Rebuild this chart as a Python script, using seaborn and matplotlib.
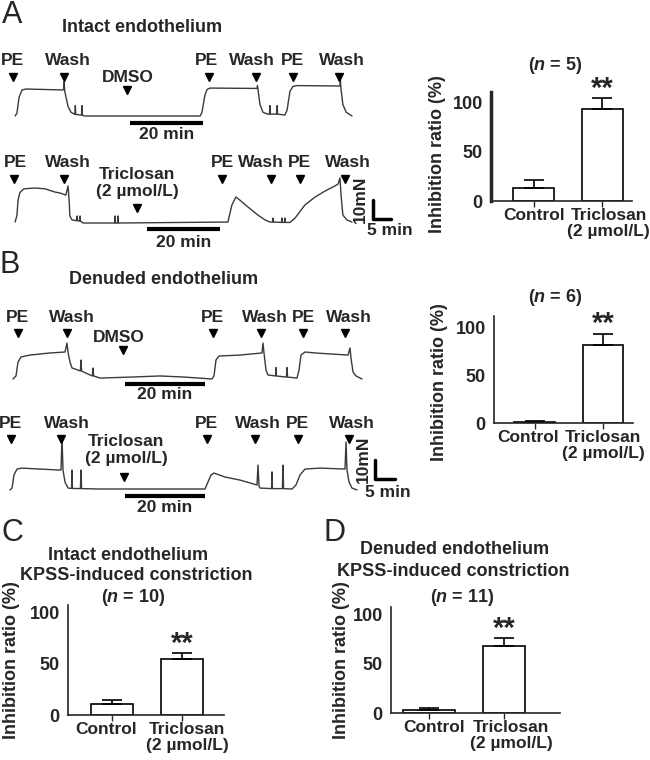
import matplotlib
matplotlib.use("Agg")
import matplotlib.pyplot as plt
import seaborn as sns

# tension recordings: time (min) and tension above baseline (mN)
a1_t = [1.4, 1.9, 2.5, 3.3, 4.4, 14.5, 14.7, 14.8, 15.0, 15.9, 16.7, 17.6, 17.8, 17.9, 18.0, 19.6,
        19.7, 19.8, 20.5, 52.1, 52.6, 53.4, 54.0, 54.8, 67.7, 67.8, 68.0, 68.5, 69.3, 70.5, 71.1,
        71.2, 71.3, 73.1, 73.2, 73.3, 75.3, 75.9, 76.7, 77.5, 78.5, 90.4, 90.5, 90.7, 91.2, 92.1, 93.7]
a1_f = [0, 1.5, 10, 13.7, 14.2, 13.7, 14, 18, 13, 5, 2, 1, 0.8, 5.5, 0.8, 0.5,
        5.5, 0.5, 0, 0, 2, 11, 14, 14.7, 14.5, 16, 13, 6, 2, 1, 1,
        5.5, 1, 1, 5.5, 1, 0.5, 3, 13, 15.5, 16, 15.8, 19, 14, 6, 2, 0]

a2_t = [1.4, 1.9, 2.2, 2.7, 3.8, 6.8, 9.6, 12.3, 13.7, 15.3, 15.9, 16.2, 16.4, 17.0, 18.3, 18.4,
        18.5, 19.1, 19.2, 19.3, 20.0, 28.7, 28.8, 28.9, 29.5, 29.6, 29.7, 59.7, 60.8, 61.9, 63.0,
        65.2, 67.9, 69.9, 71.2, 72.0, 72.1, 72.2, 74.4, 74.5, 74.6, 75.2, 75.3, 75.4, 76.7, 78.1,
        80.8, 83.6, 86.3, 89.0, 89.9, 90.4, 90.7, 91.2, 92.3, 93.7]
a2_f = [0.5, 4, 12, 16, 18, 18.4, 18, 16.3, 15.8, 14.7, 19.5, 12, 3.7, 1.6, 1.2, 3.7,
        1.2, 1, 3.7, 1, 0, 0, 3.7, 0, 0, 3.7, 0, 0.5, 9.5, 13.7, 12,
        8.4, 4.2, 1.6, 0.5, 0.5, 2.6, 0.5, 0.3, 2.6, 0.3, 0.3, 2.6, 0.3, 0.3, 2.6,
        9.5, 13.7, 16.8, 19.5, 20.5, 23.7, 14.7, 4.2, 1.6, 0.5]

b1_t = [0.75, 1.5, 2.0, 2.75, 5.0, 10.0, 13.75, 14.25, 14.5, 15.0, 15.5, 17.0, 17.6, 17.75, 17.9,
        19.5, 20.6, 20.75, 20.9, 22.5, 30.0, 37.5, 43.75, 50.5, 51.0, 51.5, 52.25, 57.5, 63.0,
        63.25, 63.5, 64.0, 64.5, 66.4, 66.5, 66.6, 69.1, 69.25, 69.4, 71.75, 72.25, 72.75, 73.75,
        76.25, 80.0, 84.5, 85.0, 85.25, 85.75, 86.5, 88.0]
b1_f = [0, 1.6, 8.9, 11.6, 12.6, 13.7, 14.2, 18.9, 14.2, 8.9, 5.8, 4.7, 4.2, 10, 4.2,
        2.6, 1.6, 5.8, 1.6, 0.5, 1, 1.6, 1, 0, 1.6, 10, 12.1, 12.6, 13.7,
        18.9, 13.7, 4.7, 2.1, 1.6, 6, 1.6, 1, 6, 1, 0.5, 4.7, 12.6, 14.2,
        13.7, 13.2, 12.6, 16.3, 11, 3.7, 1.6, 0]

b2_t = [0, 0.5, 1.0, 1.75, 3.0, 7.5, 12.0, 12.75, 13.0, 13.25, 13.75, 14.5, 15.4, 15.5, 15.6,
        17.6, 17.75, 17.9, 22.5, 48.75, 49.5, 50.25, 51.0, 53.75, 57.5, 61.75, 62.0, 62.25, 62.5,
        65.4, 65.5, 65.6, 68.1, 68.25, 68.4, 70.5, 71.5, 72.5, 73.75, 77.5, 83.75, 84.0, 84.25,
        84.75, 85.5, 86.75]
b2_f = [-0.5, 0.5, 7.4, 10.5, 11, 10.5, 10, 10, 27.4, 10, 3.7, 0.5, 0.3, 10, 0.3,
        0.2, 10, 0.2, 0, 0, 3.7, 7.4, 8.4, 6.3, 4.7, 2.1, 12.6, 1.5, 0.5,
        0.2, 9, 0.2, 0.2, 12.6, 0.2, 0, 2.1, 7.4, 10.5, 11, 10.5, 24.7, 10,
        3.7, 0.5, -0.5]

# drug / washout events (min): arrowhead times and label centres
dmso_events = ["PE", "Wash", "DMSO", "PE", "Wash", "PE", "Wash"]
tcs_events = ["PE", "Wash", "Triclosan\n(2 µmol/L)", "PE", "Wash", "PE", "Wash"]
a1_ev_t = [0.8, 14.8, 32.1, 54.5, 67.4, 77.5, 90.1]
a1_lab_t = [0.7, 15.8, 32.2, 53.9, 66.2, 77.4, 90.9]
a2_ev_t = [1.1, 14.8, 34.8, 58.1, 71.5, 79.5, 91.8]
a2_lab_t = [1.4, 16.0, 34.8, 58.2, 68.7, 79.2, 92.7]
b1_ev_t = [2.0, 14.25, 28.25, 50.75, 62.75, 73.25, 83.75]
b1_lab_t = [1.9, 15.4, 27.3, 50.6, 63.75, 73.25, 84.75]
b2_ev_t = [0.25, 12.75, 28.5, 49.25, 61.25, 72.0, 84.75]
b2_lab_t = [0.2, 14.2, 29.0, 49.0, 62.1, 71.9, 85.4]

# inhibition ratio (%), mean and SEM
groups = ["Control", "Triclosan\n(2 µmol/L)"]
a_mean, a_sem = [13, 94], [8, 11]
b_mean, b_sem = [1.5, 82], [0.7, 12]
c_mean, c_sem = [11, 54], [4, 6]
d_mean, d_sem = [3, 68], [2, 8]

sns.set_style("ticks")
plt.rcParams["font.family"] = ["Liberation Sans", "DejaVu Sans"]
plt.rcParams["font.weight"] = "bold"
plt.rcParams["mathtext.fontset"] = "custom"
plt.rcParams["mathtext.it"] = "Liberation Sans:italic:bold"
plt.rcParams["mathtext.rm"] = "Liberation Sans:bold"

W, H = 650, 760
fig = plt.figure(figsize=(6.5, 7.6), dpi=100)
FS = 13     # titles, axis text
EFS = 12.5  # trace annotations, category labels


def ftext(x, y, s, **kw):
    kw.setdefault("ha", "center")
    kw.setdefault("va", "center")
    kw.setdefault("fontsize", FS)
    kw.setdefault("fontweight", "bold")
    fig.text(x / W, 1 - y / H, s, **kw)


def trace_axes(top, bottom, base, ppm, ppn=1.9, x0=10):
    ax = fig.add_axes([0, 1 - bottom / H, 400 / W, (bottom - top) / H])
    ax.set_xlim(-x0 / ppm, (400 - x0) / ppm)
    ax.set_ylim((base - bottom) / ppn, (base - top) / ppn)
    ax.axis("off")
    return ax


def draw_trace(ax, t, f, names, ev_t, lab_t, ev_y, lab_y, drug_y, drug_lab_y, bar_t, bar_y, bar_txt_y):
    sns.lineplot(x=t, y=f, ax=ax, sort=False, estimator=None, color="#3a3a3a", lw=1)
    for i, (name, tt, lt) in enumerate(zip(names, ev_t, lab_t)):
        ay, ly = (drug_y, drug_lab_y) if i == 2 else (ev_y, lab_y)
        ax.plot(tt, ay, marker="v", color="black", ms=6, clip_on=False)
        ax.text(lt, ly, name, ha="center", va="center", fontsize=EFS, fontweight="bold")
    ax.plot([bar_t, bar_t + 20], [bar_y, bar_y], color="black", lw=3, solid_capstyle="butt")
    ax.text(bar_t + 10, bar_txt_y, "20 min", ha="center", va="center", fontsize=EFS, fontweight="bold")


def scale_L(ax, t0, f0, txt_t, txt_f, min_t, min_f):
    ax.plot([t0, t0, t0 + 5], [f0 + 10, f0, f0], color="black", lw=2.5, clip_on=False)
    ax.text(txt_t, txt_f, "10mN", rotation=90, ha="center", va="center", fontsize=EFS, fontweight="bold")
    ax.text(min_t, min_f, "5 min", ha="center", va="center", fontsize=EFS, fontweight="bold")


# ---- A traces ----
ax = trace_axes(40, 140, 116, 3.65)
draw_trace(ax, a1_t, a1_f, dmso_events, a1_ev_t, a1_lab_t, 20.5, 29, 13.7, 20.5, 32.9, -3.7, -9.5)
ax = trace_axes(150, 250, 223, 3.65)
draw_trace(ax, a2_t, a2_f, tcs_events, a2_ev_t, a2_lab_t, 23.2, 31.6, 7.9, 21, 37.5, -3.2, -10.5)
scale_L(ax, 99.5, 2.1, 95.9, 12.6, 104.1, -3.7)

# ---- B traces ----
ax = trace_axes(295, 405, 379, 4.0)
draw_trace(ax, b1_t, b1_f, dmso_events, b1_ev_t, b1_lab_t, 24.2, 32.6, 15.3, 21.6, 28.75, -2.6, -8.4)
ax = trace_axes(410, 520, 489, 4.0)
draw_trace(ax, b2_t, b2_f, tcs_events, b2_ev_t, b2_lab_t, 26.3, 34.7, 6.3, 20.5, 28.75, -3.7, -10)
scale_L(ax, 91.25, 5.3, 88.25, 15.8, 94.5, -2.1)


def bar_panel(left, top, right, bottom, ymax, xlim, means, sems, widths=None,
              spine_lw=1.2, lab_shift=(0, 0)):
    ax = fig.add_axes([left / W, 1 - bottom / H, (right - left) / W, (bottom - top) / H])
    sns.barplot(x=groups, y=means, ax=ax, color="white", edgecolor="black",
                linewidth=1.2, width=0.6, saturation=1)
    if widths:
        for i, (p, w) in enumerate(zip(ax.patches, widths)):
            p.set_x(i - w / 2)
            p.set_width(w)
    ax.errorbar([0, 1], means, yerr=[[0, 0], sems], fmt="none", ecolor="black",
                elinewidth=1.2, capsize=7, capthick=1.2)
    ax.annotate("**", xy=(1, means[1] + sems[1]), xytext=(0, 1), textcoords="offset points",
                ha="center", va="baseline", fontsize=21, fontweight="bold")
    ax.set_ylim(0, ymax)
    ax.set_xlim(*xlim)
    sns.despine(ax=ax)
    ax.spines["left"].set_linewidth(spine_lw)
    ax.spines["bottom"].set_linewidth(1.2)
    ax.set_yticks([0, 50, 100])
    ax.set_yticklabels(["0", "50", "100"], fontsize=FS, fontweight="bold")
    # tick marks at the bars, category names on (slightly shifted) minor ticks
    ax.xaxis.remove_overlapping_locs = False
    ax.set_xticks([0, 1])
    ax.set_xticklabels([])
    ax.set_xticks([lab_shift[0], 1 + lab_shift[1]], minor=True)
    ax.set_xticklabels(groups, minor=True, fontsize=EFS, fontweight="bold", linespacing=1.05)
    ax.tick_params(axis="y", length=0, pad=6)
    ax.tick_params(axis="x", which="major", length=4, width=1)
    ax.tick_params(axis="x", which="minor", length=0, pad=5)
    ax.set_xlabel("")
    ax.set_ylabel("")
    return ax


bar_panel(491, 92, 632, 201, 111, (-0.62, 1.43), a_mean, a_sem, spine_lw=2.5, lab_shift=(0, 0.09))
bar_panel(494, 316, 633, 423, 112.6, (-0.6, 1.44), b_mean, b_sem, lab_shift=(-0.1, 0))
bar_panel(68, 605, 224, 715, 106.8, (-0.63, 1.6), c_mean, c_sem, lab_shift=(-0.09, 0.07))
bar_panel(391, 607, 560, 713, 108, (-0.51, 1.75), d_mean, d_sem, widths=[0.69, 0.56],
          lab_shift=(0.06, 0.1))

# labels and titles
for lbl, x, y in [("A", 12, 15), ("B", 10, 265), ("C", 12, 533), ("D", 334, 533)]:
    ftext(x, y, lbl, fontsize=22, fontweight="normal")
ftext(142, 28, "Intact endothelium")
ftext(164, 280, "Denuded endothelium")
ftext(555, 65, r"($\mathit{n}$ = 5)")
ftext(555, 298, r"($\mathit{n}$ = 6)")
ftext(128, 555, "Intact endothelium")
ftext(136, 576, "KPSS-induced constriction")
ftext(133, 598, r"($\mathit{n}$ = 10)")
ftext(455, 550, "Denuded endothelium")
ftext(453, 572, "KPSS-induced constriction")
ftext(462, 597, r"($\mathit{n}$ = 11)")
for x, y in [(438, 154), (440, 382), (12, 660), (342, 660)]:
    ftext(x, y, "Inhibition ratio (%)", rotation=90)

fig.savefig("out.png", dpi=100)
